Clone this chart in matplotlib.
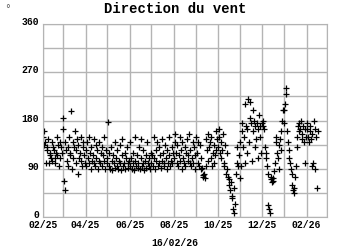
import datetime as dt
import matplotlib
matplotlib.use("Agg")
import matplotlib.pyplot as plt
import matplotlib.dates as mdates
import matplotlib.transforms as mtransforms

# daily wind direction (degrees), one list per month
feb25 = [150, 160, 135, 140, 100, 125, 130, 145, 100, 120, 115, 110, 140, 105,
         130, 125, 110, 100, 120, 150, 115, 135, 95, 140, 110, 130, 120, 165]
mar25 = [185, 67, 50, 140, 125, 105, 95, 130, 150, 120, 115, 198, 90, 110, 140,
         130, 160, 100, 125, 145, 135, 80, 110, 120, 150, 105, 95, 130, 140, 115, 100]
apr25 = [125, 95, 140, 110, 100, 150, 120, 90, 130, 105, 115, 145, 100, 95, 135,
         110, 125, 90, 140, 105, 100, 120, 130, 95, 115, 150, 105, 90, 125, 110]
may25 = [100, 177, 120, 95, 90, 130, 105, 88, 115, 100, 140, 92, 110, 125, 95, 90,
         105, 135, 100, 88, 115, 145, 95, 100, 120, 90, 110, 130, 92, 100, 105]
jun25 = [95, 140, 110, 90, 100, 120, 88, 105, 150, 95, 115, 92, 100, 130, 90, 110,
         145, 95, 100, 125, 88, 105, 115, 92, 140, 100, 110, 95, 90, 120]
jul25 = [100, 115, 95, 150, 110, 90, 125, 105, 140, 95, 100, 130, 115, 92, 145, 105,
         120, 100, 95, 135, 110, 90, 125, 100, 150, 115, 95, 105, 130, 100, 120]
aug25 = [110, 140, 155, 120, 100, 135, 95, 115, 150, 105, 125, 90, 140, 110, 100, 130,
         95, 120, 145, 105, 115, 155, 100, 125, 95, 110, 140, 100, 130, 90, 115]
sep25 = [150, 120, 140, 100, 95, 135, 110, 90, 92, 78, 75, 80, 72, 95, 145, 125, 105,
         155, 130, 140, 110, 150, 95, 120, 135, 100, 115, 160, 125, 145]
oct25 = [130, 150, 165, 120, 140, 110, 125, 155, 100, 95, 135, 80, 90, 120, 75, 70,
         60, 50, 65, 40, 35, 15, 8, 55, 25, 80, 100, 130, 95, 115, 73]
nov25 = [140, 95, 160, 175, 130, 150, 100, 210, 170, 165, 120, 220, 140, 185, 215,
         175, 105, 160, 200, 180, 170, 130, 145, 175, 110, 165, 190, 150, 170, 120]
dec25 = [175, 170, 180, 165, 130, 120, 110, 95, 80, 22, 15, 7, 75, 70, 65, 72, 68,
         85, 100, 140, 150, 120, 110, 135, 90, 145, 160, 125, 180, 200, 175]
jan26 = [200, 210, 230, 240, 160, 140, 125, 110, 100, 90, 80, 60, 50, 45, 55, 75, 95,
         130, 150, 170, 160, 175, 165, 180, 155, 145, 170, 140, 100, 165, 150]
feb26 = [165, 175, 150, 140, 160, 170, 145, 155, 95, 100, 180, 90, 165, 150, 55, 160]

values = (feb25 + mar25 + apr25 + may25 + jun25 + jul25 + aug25 + sep25 + oct25
          + nov25 + dec25 + jan26 + feb26)
start = dt.date(2025, 2, 1)
dates = [start + dt.timedelta(days=i) for i in range(len(values))]

mono = "Liberation Mono"
fig = plt.figure(figsize=(3.5, 2.5), dpi=100)
ax = fig.add_axes([0.123, 0.132, 0.811, 0.772])

ax.plot(dates, values, linestyle="none", marker="+", color="black",
        markersize=5, markeredgewidth=0.9)

ax.set_xlim(dt.date(2025, 2, 1), dt.date(2026, 3, 1))
ax.set_ylim(0, 360)
ax.set_yticks([0, 90, 180, 270, 360])
ax.set_yticks(range(0, 361, 45), minor=True)
ax.xaxis.set_major_locator(mdates.MonthLocator(bymonth=[2, 4, 6, 8, 10, 12]))
ax.xaxis.set_major_formatter(mdates.DateFormatter("%m/%y"))
ax.xaxis.set_minor_locator(mdates.MonthLocator())
ax.grid(True, which="both", color="#b4b4b4", linewidth=1)
ax.set_axisbelow(True)
ax.tick_params(which="both", length=0)
ax.tick_params(axis="x", pad=2)
ax.tick_params(axis="y", pad=3)
for lab in ax.get_xticklabels() + ax.get_yticklabels():
    lab.set_fontfamily(mono)
    lab.set_fontweight("bold")
    lab.set_fontsize(7)
# y labels sit a little above their grid lines
shift = mtransforms.ScaledTranslation(0, 2 / 72, fig.dpi_scale_trans)
for lab in ax.get_yticklabels():
    lab.set_transform(lab.get_transform() + shift)
for s in ax.spines.values():
    s.set_color("#b4b4b4")

fig.text(0.5, 0.965, "Direction du vent", ha="center", va="center",
         fontfamily=mono, fontweight="bold", fontsize=10)
fig.text(0.5, 0.03, "16/02/26", ha="center", va="center",
         fontfamily=mono, fontweight="bold", fontsize=7)
fig.text(0.022, 0.965, "°", ha="center", va="center", fontsize=7, color="#555555")

fig.savefig("out.png", dpi=100)
